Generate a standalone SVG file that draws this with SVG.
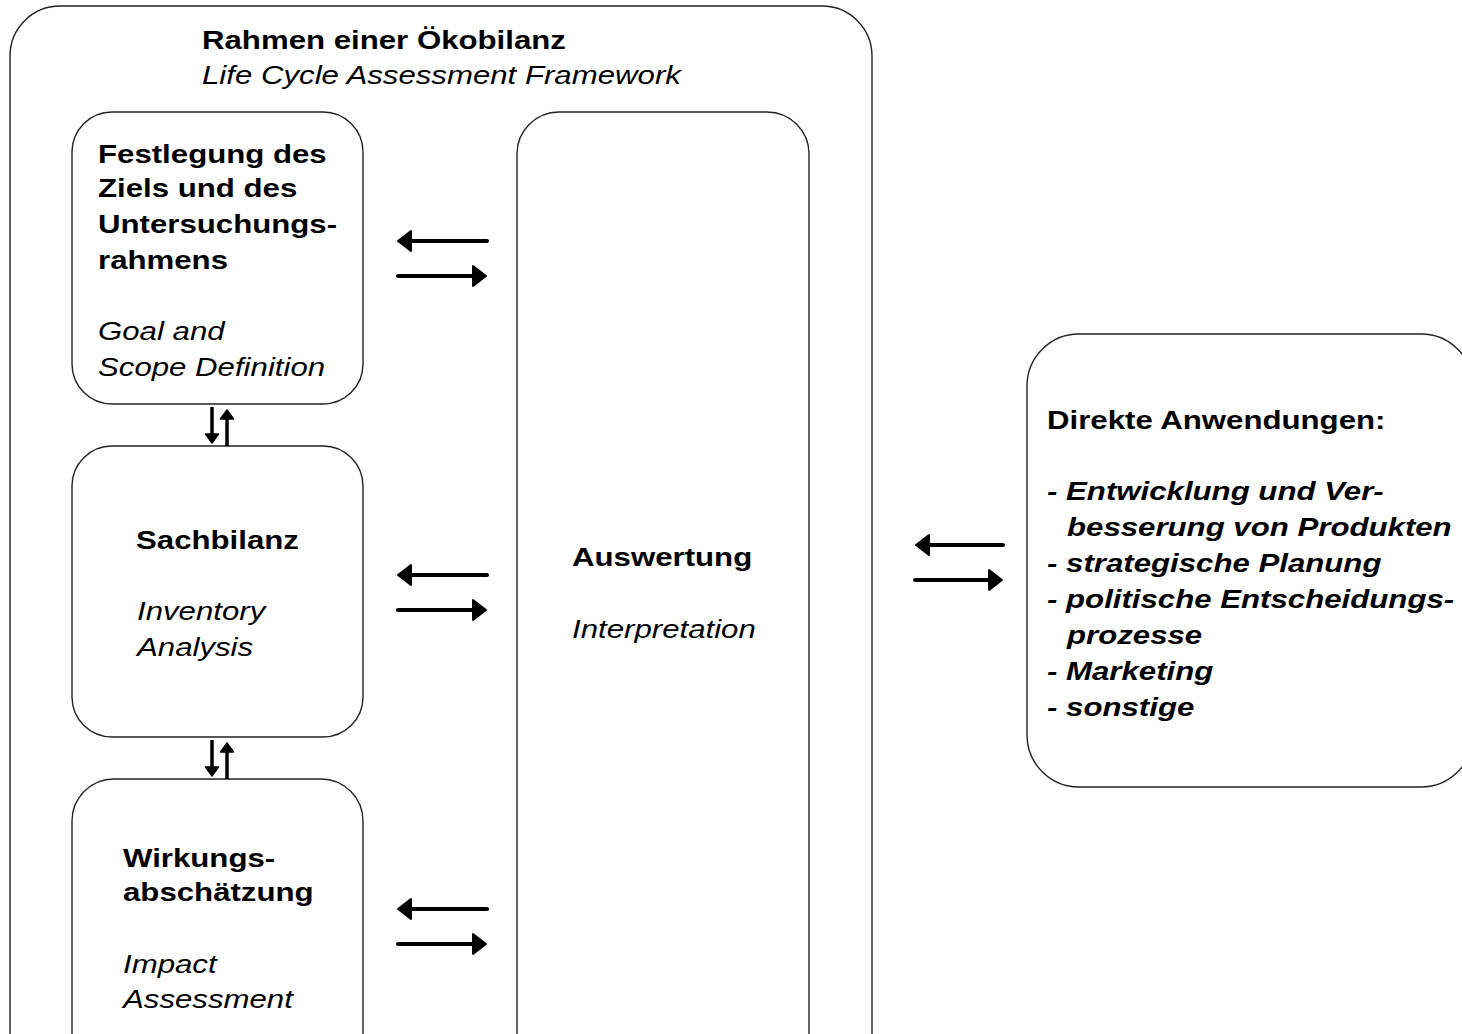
<svg xmlns="http://www.w3.org/2000/svg" width="1462" height="1034" viewBox="0 0 1462 1034">
<style>
.box{fill:#fff;stroke:#222;stroke-width:1.4}
.t{font-family:"Liberation Sans",Arial,Helvetica,sans-serif;font-size:26px;fill:#000}
.b{font-weight:bold}
.i{font-style:italic}
.c{stroke:#000;stroke-width:4;fill:none;stroke-linecap:round}
.cv{stroke:#000;stroke-width:3.5;fill:none}
</style>
<defs>
<marker id="ah" markerUnits="userSpaceOnUse" markerWidth="24" markerHeight="24" refX="2" refY="11" orient="auto" overflow="visible">
<path d="M0,1 L13,11 L0,21 z" fill="#000" stroke="#000" stroke-width="2" stroke-linejoin="round"/>
</marker>
<marker id="ahs" markerUnits="userSpaceOnUse" markerWidth="20" markerHeight="20" refX="2" refY="7" orient="auto" overflow="visible">
<path d="M0,0.5 L9,7 L0,13.5 z" fill="#000" stroke="#000" stroke-width="1.5" stroke-linejoin="round"/>
</marker>
</defs>
<rect width="1462" height="1034" fill="#fff"/>

<g id="frame">
<rect class="box" x="10" y="6" width="862" height="1100" rx="50" ry="50"/>
<text class="t b" transform="translate(202 49) scale(1.2 1)">Rahmen einer Ökobilanz</text>
<text class="t i" transform="translate(202 84) scale(1.2 1)">Life Cycle Assessment Framework</text>
</g>

<g id="goal">
<rect class="box" x="72" y="112" width="291" height="292" rx="40" ry="40"/>
<text class="t b" transform="translate(98 163) scale(1.2 1)">Festlegung des</text>
<text class="t b" transform="translate(98 197) scale(1.2 1)">Ziels und des</text>
<text class="t b" transform="translate(98 233) scale(1.2 1)">Untersuchungs-</text>
<text class="t b" transform="translate(98 269) scale(1.2 1)">rahmens</text>
<text class="t i" transform="translate(98 340) scale(1.2 1)">Goal and</text>
<text class="t i" transform="translate(98 376) scale(1.2 1)">Scope Definition</text>
</g>

<g id="inventory">
<rect class="box" x="72" y="446" width="291" height="291" rx="40" ry="40"/>
<text class="t b" transform="translate(136 549) scale(1.2 1)">Sachbilanz</text>
<text class="t i" transform="translate(137 620) scale(1.2 1)">Inventory</text>
<text class="t i" transform="translate(137 656) scale(1.2 1)">Analysis</text>
</g>

<g id="impact">
<rect class="box" x="72" y="779" width="291" height="320" rx="42" ry="42"/>
<text class="t b" transform="translate(123 867) scale(1.2 1)">Wirkungs-</text>
<text class="t b" transform="translate(123 901) scale(1.2 1)">abschätzung</text>
<text class="t i" transform="translate(123 973) scale(1.2 1)">Impact</text>
<text class="t i" transform="translate(123 1008) scale(1.2 1)">Assessment</text>
</g>

<g id="interpretation">
<rect class="box" x="517" y="112" width="292" height="1000" rx="42" ry="42"/>
<text class="t b" transform="translate(572 566) scale(1.2 1)">Auswertung</text>
<text class="t i" transform="translate(572 638) scale(1.2 1)">Interpretation</text>
</g>

<g id="applications">
<rect class="box" x="1027" y="334" width="446" height="453" rx="52" ry="52"/>
<text class="t b" transform="translate(1047 429) scale(1.2 1)">Direkte Anwendungen:</text>
<g class="t b i">
<text transform="translate(1047 500) scale(1.2 1)">- Entwicklung und Ver-</text>
<text transform="translate(1067 536) scale(1.2 1)">besserung von Produkten</text>
<text transform="translate(1047 572) scale(1.2 1)">- strategische Planung</text>
<text transform="translate(1047 608) scale(1.2 1)">- politische Entscheidungs-</text>
<text transform="translate(1067 644) scale(1.2 1)">prozesse</text>
<text transform="translate(1047 680) scale(1.2 1)">- Marketing</text>
<text transform="translate(1047 716) scale(1.2 1)">- sonstige</text>
</g>
</g>

<g id="connectors">
<line class="c" x1="487" y1="241" x2="409" y2="241" marker-end="url(#ah)"/>
<line class="c" x1="398" y1="276" x2="475" y2="276" marker-end="url(#ah)"/>
<line class="c" x1="487" y1="575" x2="409" y2="575" marker-end="url(#ah)"/>
<line class="c" x1="398" y1="610" x2="475" y2="610" marker-end="url(#ah)"/>
<line class="c" x1="487" y1="909" x2="409" y2="909" marker-end="url(#ah)"/>
<line class="c" x1="398" y1="944" x2="475" y2="944" marker-end="url(#ah)"/>
<line class="c" x1="1003" y1="545" x2="927" y2="545" marker-end="url(#ah)"/>
<line class="c" x1="915" y1="580" x2="991" y2="580" marker-end="url(#ah)"/>
<line class="cv" x1="212" y1="407" x2="212" y2="436" marker-end="url(#ahs)"/>
<line class="cv" x1="227" y1="446" x2="227" y2="417" marker-end="url(#ahs)"/>
<line class="cv" x1="212" y1="740" x2="212" y2="769" marker-end="url(#ahs)"/>
<line class="cv" x1="227" y1="779" x2="227" y2="750" marker-end="url(#ahs)"/>
</g>
</svg>
